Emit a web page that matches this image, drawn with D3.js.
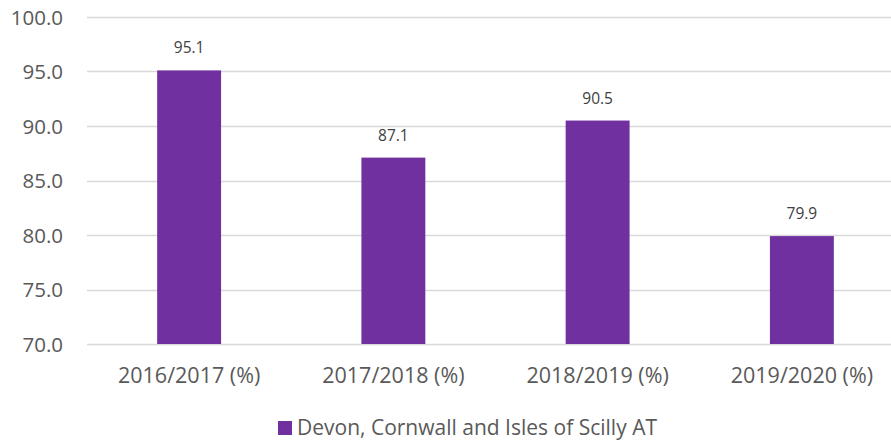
<!DOCTYPE html>
<html><head><meta charset="utf-8">
<script src="https://cdn.jsdelivr.net/npm/d3@7"></script>
<style>body{margin:0;background:#fff}svg{display:block}text{font-family:"Open Sans",sans-serif}</style>
</head><body><svg id="c" width="891" height="441"></svg>
<script>
const categories = ["2016/2017 (%)", "2017/2018 (%)", "2018/2019 (%)", "2019/2020 (%)"];
const values = [95.1, 87.1, 90.5, 79.9];
const yTicks = [70, 75, 80, 85, 90, 95, 100];
const seriesName = "Devon, Cornwall and Isles of Scilly AT";

(function () {
const svg = d3.select("#c");
const mLeft = 87, mRight = 904, mTop = 17, mBottom = 344;
const x = d3.scaleBand().domain(categories).range([mLeft, mRight]).paddingInner(0.687).paddingOuter(0.3435);
const y = d3.scaleLinear().domain([70, 100]).range([mBottom, mTop]);

svg.append("g").selectAll("line").data(yTicks).join("line")
  .attr("x1", mLeft).attr("x2", mRight)
  .attr("y1", d => Math.round(y(d)) + 0.5).attr("y2", d => Math.round(y(d)) + 0.5)
  .attr("stroke", "#d9d9d9").attr("stroke-width", 1.5);

const yAxis = svg.append("g").attr("transform", `translate(${mLeft - 24},0)`)
  .call(d3.axisLeft(y).tickValues(yTicks).tickFormat(d3.format(".1f")).tickSize(0).tickPadding(0));
yAxis.select(".domain").remove();
yAxis.selectAll("text").attr("fill", "#595959").attr("font-size", 20.5).attr("dy", "0.36em");

svg.append("g").selectAll("rect").data(values).join("rect")
  .attr("x", (d, i) => x(categories[i])).attr("width", x.bandwidth())
  .attr("y", d => y(d)).attr("height", d => y(70) - y(d))
  .attr("fill", "#7030A0");

svg.append("g").selectAll("text").data(values).join("text")
  .attr("x", (d, i) => x(categories[i]) + x.bandwidth() / 2)
  .attr("y", d => y(d) - 17)
  .attr("text-anchor", "middle").attr("fill", "#404040").attr("font-size", 15.5)
  .text(d => d.toFixed(1));

const xAxis = svg.append("g").attr("transform", `translate(0,${mBottom})`)
  .call(d3.axisBottom(x).tickSize(0).tickPadding(0));
xAxis.select(".domain").remove();
xAxis.selectAll("text").attr("fill", "#595959").attr("font-size", 21.5).attr("dy", "39").attr("y", 0);

const lg = svg.append("g");
lg.append("rect").attr("x", 278).attr("y", 421).attr("width", 14).attr("height", 14).attr("fill", "#7030A0");
lg.append("text").attr("x", 297).attr("y", 435).attr("fill", "#595959").attr("font-size", 21).text(seriesName);
})();
</script></body></html>
